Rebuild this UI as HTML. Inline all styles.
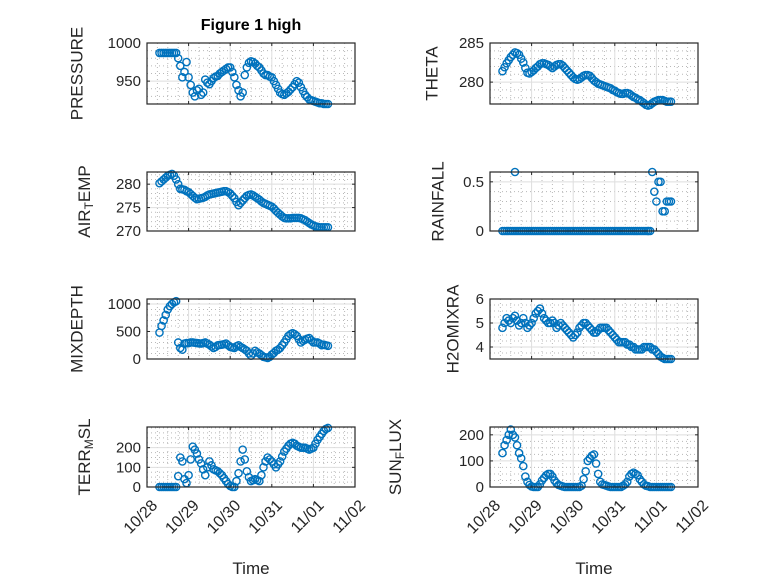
<!DOCTYPE html>
<html><head><meta charset="utf-8"><style>
html,body{margin:0;padding:0;background:#fff;}
svg{display:block;font-family:"Liberation Sans","DejaVu Sans",sans-serif;}
</style></head><body>
<svg id="fig" width="778" height="583" viewBox="0 0 778 583">
<rect width="778" height="583" fill="#fff"/>
<text x="251" y="30" text-anchor="middle" font-size="16" font-weight="bold" fill="#000">Figure 1 high</text>
<text x="251" y="574" text-anchor="middle" font-size="17" fill="#262626">Time</text>
<text x="594" y="574" text-anchor="middle" font-size="17" fill="#262626">Time</text>
</svg>
<script>
const times = [0.3,0.35,0.4,0.45,0.5,0.55,0.6,0.65,0.7,0.75,0.8,0.85,0.9,0.95,1.0,1.05,1.1,1.15,1.2,1.25,1.3,1.35,1.4,1.45,1.5,1.55,1.6,1.65,1.7,1.75,1.8,1.85,1.9,1.95,2.0,2.05,2.1,2.15,2.2,2.25,2.3,2.35,2.4,2.45,2.5,2.55,2.6,2.65,2.7,2.75,2.8,2.85,2.9,2.95,3.0,3.05,3.1,3.15,3.2,3.25,3.3,3.35,3.4,3.45,3.5,3.55,3.6,3.65,3.7,3.75,3.8,3.85,3.9,3.95,4.0,4.05,4.1,4.15,4.2,4.25,4.3,4.35];
const dayLabels = ["10/28","10/29","10/30","10/31","11/01","11/02"];
const pressure = [987,987,987,987,987,987,987,987,987,980,970,955,962,975,955,945,935,930,938,940,932,935,952,948,946,950,954,956,957,960,962,964,966,968,968,962,955,945,938,930,935,958,968,974,976,975,973,970,968,964,960,958,958,956,955,950,945,940,935,933,932,934,936,939,942,946,950,948,942,937,932,929,926,925,924,923,922,921,921,920,920,920];
const theta = [281.4,281.9,282.4,282.8,283.2,283.5,283.8,283.7,283.5,283,282.5,281.8,281.2,281.1,281.3,281.5,281.8,282,282.3,282.4,282.4,282.3,282.2,282,281.8,282,282.2,282.3,282.3,282.1,281.8,281.5,281.2,280.9,280.6,280.4,280.3,280.4,280.6,280.8,280.9,280.9,280.8,280.5,280.2,280,279.8,279.7,279.6,279.5,279.4,279.3,279.2,279,278.9,278.7,278.6,278.5,278.5,278.6,278.6,278.5,278.3,278.1,278,277.8,277.7,277.5,277.3,277.1,277,277.1,277.3,277.5,277.6,277.7,277.7,277.7,277.6,277.5,277.5,277.5];
const airTemp = [280.2,280.6,281,281.4,281.8,282,282.2,281.8,281,280,279,278.9,278.8,278.5,278.3,277.9,277.5,277.1,276.8,276.9,277,277.1,277.3,277.6,277.8,277.9,278,278.1,278.2,278.3,278.4,278.5,278.5,278.3,278,277.5,277,276.2,275.5,276,276.5,277,277.5,277.7,277.8,277.6,277.3,277,276.7,276.3,276,275.8,275.6,275.4,275.2,274.8,274.3,273.9,273.5,273.1,272.8,272.7,272.7,272.7,272.8,272.8,272.8,272.8,272.7,272.5,272.3,272,271.7,271.4,271.2,271,270.9,270.8,270.8,270.8,270.8,270.8];
const rainfall = [0,0,0,0,0,0,0.6,0,0,0,0,0,0,0,0,0,0,0,0,0,0,0,0,0,0,0,0,0,0,0,0,0,0,0,0,0,0,0,0,0,0,0,0,0,0,0,0,0,0,0,0,0,0,0,0,0,0,0,0,0,0,0,0,0,0,0,0,0,0,0,0,0,0.6,0.4,0.3,0.5,0.5,0.2,0.2,0.3,0.3,0.3];
const rainExtraTimes = [0.6,3.8];
const rainExtraValues = [0,0];
const mixDepth = [480,600,700,800,900,960,1000,1030,1050,300,200,170,280,290,290,300,300,295,290,285,280,290,300,280,260,230,200,220,250,255,260,270,280,250,220,210,200,230,250,220,200,175,150,100,60,100,150,120,100,70,40,30,20,40,80,110,150,170,200,250,300,360,420,450,470,450,420,360,300,330,350,370,380,340,300,300,300,280,250,260,250,240];
const h2oMix = [4.8,5.0,5.2,5.1,5.0,5.2,5.3,5.1,4.9,5.0,5.2,5.0,4.8,4.9,5.0,5.2,5.4,5.5,5.6,5.4,5.2,5.1,5.0,5.0,5.1,5.0,4.8,4.9,5.0,4.9,4.8,4.7,4.6,4.5,4.4,4.5,4.6,4.8,4.9,5.0,5.0,4.9,4.8,4.7,4.6,4.6,4.7,4.8,4.8,4.8,4.8,4.7,4.6,4.5,4.4,4.3,4.2,4.2,4.2,4.2,4.1,4.1,4.0,4.0,3.9,3.9,3.9,3.9,4.0,4.0,4.0,4.0,3.9,3.9,3.8,3.7,3.6,3.55,3.5,3.5,3.5,3.5];
const terrMsl = [0,0,0,0,0,0,0,0,0,55,150,130,40,20,60,140,205,190,170,140,120,90,60,100,130,110,90,85,80,70,60,45,30,15,5,0,0,30,70,130,190,140,80,50,30,35,40,35,30,60,100,130,150,140,130,115,100,115,130,155,180,195,210,220,225,220,210,205,200,200,200,195,190,195,200,220,240,255,270,285,295,300];
const sunFlux = [130,160,180,200,220,200,190,160,130,110,80,40,20,8,2,0,0,0,10,25,35,45,50,50,40,25,15,8,5,2,0,0,0,0,0,0,0,0,5,30,60,100,110,120,125,90,50,20,10,8,5,2,0,0,0,0,0,0,5,10,20,40,50,55,50,45,30,20,10,5,3,0,0,0,0,0,0,0,0,0,0,0];
const pressureTicks = [950,1000];
const thetaTicks = [280,285];
const airTicks = [270,275,280];
const rainTicks = [0,0.5];
const mixTicks = [0,500,1000];
const h2oTicks = [4,5,6];
const terrTicks = [0,100,200];
const sunTicks = [0,100,200];

const NS = "http://www.w3.org/2000/svg";
const svg = document.getElementById('fig');
function mk(tag, attrs, parent){ const e=document.createElementNS(NS,tag); for(const k in attrs) e.setAttribute(k,attrs[k]); (parent||svg).appendChild(e); return e; }

const panels = [
 {name:'pressure', label:['PRESSURE'], vals:pressure, ticks:pressureTicks, ymin:920, ymax:1000, minorStep:10, x0:147, x1:355, y0:43, y1:104, lx:77},
 {name:'theta', label:['THETA'], vals:theta, ticks:thetaTicks, ymin:277.2, ymax:285, minorStep:1, x0:490, x1:698, y0:43, y1:104, lx:432},
 {name:'air-temp', label:['AIR','T','EMP'], vals:airTemp, ticks:airTicks, ymin:270, ymax:282.6, minorStep:1, x0:147, x1:355, y0:172, y1:231, lx:84},
 {name:'rainfall', label:['RAINFALL'], vals:rainfall, ticks:rainTicks, ymin:0, ymax:0.6, minorStep:0.1, x0:490, x1:698, y0:172, y1:231, lx:438, extraT:rainExtraTimes, extraV:rainExtraValues},
 {name:'mixdepth', label:['MIXDEPTH'], vals:mixDepth, ticks:mixTicks, ymin:0, ymax:1090, minorStep:100, x0:147, x1:355, y0:299, y1:359, lx:77},
 {name:'h2omixra', label:['H2OMIXRA'], vals:h2oMix, ticks:h2oTicks, ymin:3.5, ymax:6, minorStep:0.25, x0:490, x1:698, y0:299, y1:359, lx:453},
 {name:'terr-msl', label:['TERR','M','SL'], vals:terrMsl, ticks:terrTicks, ymin:0, ymax:305, minorStep:25, x0:147, x1:355, y0:427, y1:487, lx:84, xlabels:true},
 {name:'sun-flux', label:['SUN','F','LUX'], vals:sunFlux, ticks:sunTicks, ymin:0, ymax:230, minorStep:25, x0:490, x1:698, y0:427, y1:487, lx:395, xlabels:true}
];

panels.forEach(p=>{
  const xs = d => p.x0 + (d/5)*(p.x1-p.x0);
  const ys = v => p.y1 - (v-p.ymin)/(p.ymax-p.ymin)*(p.y1-p.y0);
  const g = mk('g',{});
  
  
  mk('rect',{x:p.x0,y:p.y0,width:p.x1-p.x0,height:p.y1-p.y0,fill:'#fff'},g);
  for(let d=0; d<=5.001; d+=0.25){ if(Math.abs(d-Math.round(d))<0.01) continue;
    mk('line',{x1:xs(d),x2:xs(d),y1:p.y0,y2:p.y1,stroke:'#b8b8b8','stroke-width':1,'stroke-dasharray':'1 3'},g); }
  const start = Math.ceil(p.ymin/p.minorStep)*p.minorStep;
  for(let v=start; v<=p.ymax+1e-9; v+=p.minorStep){
    if(p.ticks.some(t=>Math.abs(t-v)<1e-6)) continue;
    mk('line',{x1:p.x0,x2:p.x1,y1:ys(v),y2:ys(v),stroke:'#b8b8b8','stroke-width':1,'stroke-dasharray':'1 3'},g); }
  for(let d=1; d<5; d++) mk('line',{x1:xs(d),x2:xs(d),y1:p.y0,y2:p.y1,stroke:'#dedede','stroke-width':1},g);
  p.ticks.forEach(t=>{
    mk('line',{x1:p.x0,x2:p.x1,y1:ys(t),y2:ys(t),stroke:'#dedede','stroke-width':1},g);
    const tl = mk('text',{x:p.x0-6,y:ys(t)+5,'text-anchor':'end','font-size':15,fill:'#262626'},g);
    tl.textContent = String(t);
    
    
    mk('line',{x1:p.x0,x2:p.x0+3,y1:ys(t),y2:ys(t),stroke:'#262626'},g);
    mk('line',{x1:p.x1,x2:p.x1-3,y1:ys(t),y2:ys(t),stroke:'#262626'},g);
  });
  for(let d=0; d<=5; d++){
    mk('line',{x1:xs(d),x2:xs(d),y1:p.y1,y2:p.y1-3,stroke:'#262626'},g);
    mk('line',{x1:xs(d),x2:xs(d),y1:p.y0,y2:p.y0+3,stroke:'#262626'},g);
  }
  const cg = mk('g',{fill:'none',stroke:'#0072bd','stroke-width':1.4},g);
  
  
  const n = Math.min(times.length, p.vals.length);
  for(let i=0;i<n;i++){
    const c = mk('circle',{cx:xs(times[i]),cy:ys(p.vals[i]),r:3.6},cg);
    
    
  }
  if(p.extraT){
    for(let i=0;i<p.extraT.length;i++){
      const c = mk('circle',{cx:xs(p.extraT[i]),cy:ys(p.extraV[i]),r:3.6},cg);
      
      
    }
  }
  mk('rect',{x:p.x0,y:p.y0,width:p.x1-p.x0,height:p.y1-p.y0,fill:'none',stroke:'#262626','stroke-width':1.2},g);
  const cy = (p.y0+p.y1)/2;
  const lab = mk('text',{transform:`translate(${p.lx},${cy}) rotate(-90)`,'text-anchor':'middle','font-size':17,fill:'#262626','dominant-baseline':'central'},g);
  
  
  if(p.label.length===1){ lab.textContent = p.label[0]; }
  else {
    const a = mk('tspan',{},lab); a.textContent = p.label[0];
    const b = mk('tspan',{dy:5,'font-size':12},lab); b.textContent = p.label[1];
    const c = mk('tspan',{dy:-5},lab); c.textContent = p.label[2];
  }
  if(p.xlabels){
    for(let d=0; d<=5; d++){
      const x = xs(d), y = p.y1+12;
      const tl = mk('text',{transform:`translate(${x+4},${y}) rotate(-45)`,'text-anchor':'end','dominant-baseline':'hanging','font-size':16,fill:'#262626'},g);
      tl.textContent = dayLabels[d];
      
      
    }
  }
});
</script>
</body></html>
